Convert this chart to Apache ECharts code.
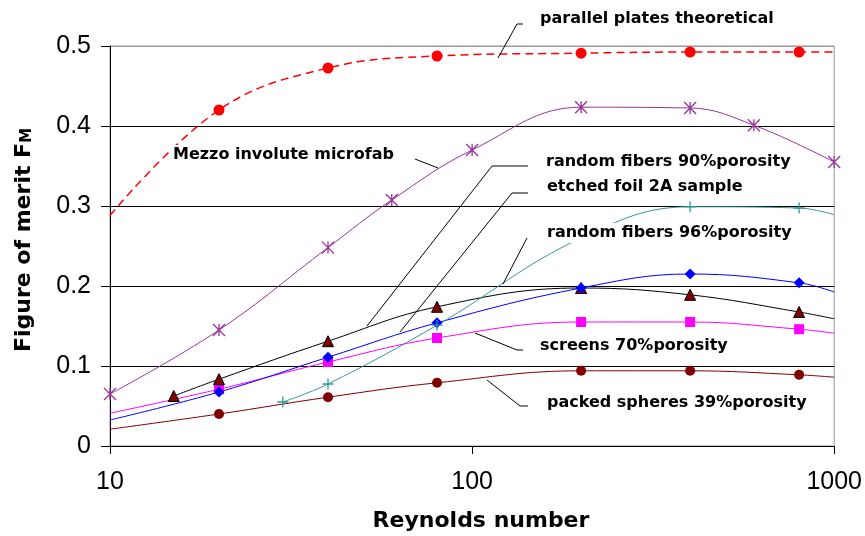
<!DOCTYPE html>
<html>
<head>
<meta charset="utf-8">
<script src="https://cdn.jsdelivr.net/npm/echarts@6/dist/echarts.min.js"></script>
<style>
  html, body { margin: 0; padding: 0; background: #fff; }
  #chart { width: 865px; height: 536px; }
</style>
</head>
<body>
<div id="chart"></div>
<script>
// values (Re on a log axis, figure of merit F_M)
const plateRe = [10, 20, 40, 80, 200, 400, 800, 1000];
const plateFm = [0.288, 0.42, 0.4725, 0.4875, 0.491, 0.4925, 0.4925, 0.4925];
const plateMarked = [0, 1, 1, 1, 1, 1, 1, 0];

const mezzoRe = [10, 20, 40, 60, 100, 200, 400, 600, 1000];
const mezzoFm = [0.065, 0.145, 0.248, 0.3075, 0.37, 0.4235, 0.4225, 0.401, 0.355];
const mezzoMarked = [1, 1, 1, 1, 1, 1, 1, 1, 1];

const fib90Re = [15, 20, 40, 80, 200, 400, 800, 1000];
const fib90Fm = [0.0625, 0.0835, 0.131, 0.174, 0.1975, 0.189, 0.1675, 0.159];
const fib90Marked = [1, 1, 1, 1, 1, 1, 1, 0];

const fib96Re = [10, 20, 40, 80, 200, 400, 800, 1000];
const fib96Fm = [0.0325, 0.0675, 0.111, 0.154, 0.1975, 0.215, 0.204, 0.1925];
const fib96Marked = [0, 1, 1, 1, 1, 1, 1, 0];

const foilRe = [30, 40, 80, 200, 400, 800, 1000];
const foilFm = [0.055, 0.0775, 0.151, 0.26, 0.299, 0.2975, 0.289];
const foilMarked = [1, 1, 1, 0, 1, 1, 0];

const screenRe = [10, 20, 40, 80, 200, 400, 800, 1000];
const screenFm = [0.041, 0.071, 0.105, 0.135, 0.155, 0.155, 0.146, 0.141];
const screenMarked = [0, 1, 1, 1, 1, 1, 1, 0];

const sphereRe = [10, 20, 40, 80, 200, 400, 800, 1000];
const sphereFm = [0.021, 0.04, 0.061, 0.079, 0.094, 0.094, 0.089, 0.086];
const sphereMarked = [0, 1, 1, 1, 1, 1, 1, 0];

const xTicks = [10, 100, 1000];
const yTicks = [0, 0.1, 0.2, 0.3, 0.4, 0.5];

function pts(re, fm, marked) {
  return re.map(function (r, i) {
    const p = { value: [r, fm[i]] };
    if (!marked[i]) p.symbol = 'none';
    return p;
  });
}

function lineSeries(name, re, fm, marked, color, symbol, size, extra) {
  const s = {
    name: name,
    type: 'line',
    data: pts(re, fm, marked),
    smooth: 0.4,
    symbol: symbol,
    symbolSize: size,
    showAllSymbol: true,
    lineStyle: { color: color, width: 1 },
    itemStyle: { color: color, borderWidth: 0 },
    emphasis: { disabled: true },
    animation: false
  };
  return Object.assign(s, extra || {});
}

const star = 'path://M0 0L10 10M10 0L0 10M5 0L5 10';
const plus = 'path://M5 0L5 10M0 5L10 5';

const chart = echarts.init(document.getElementById('chart'));

const boldFont = 'DejaVu Sans';
const labelStyle = function (text, x, y) {
  return {
    type: 'text', x: x, y: y, z: 100,
    style: {
      text: text, fill: '#000', fontFamily: boldFont, fontWeight: 'bold', fontSize: 16,
      align: 'left', verticalAlign: 'middle', backgroundColor: '#fff', padding: [2, 2]
    }
  };
};
const leader = function (points) {
  return { type: 'polyline', z: 99, shape: { points: points }, style: { stroke: '#000', lineWidth: 1, fill: null } };
};

chart.setOption({
  animation: false,
  backgroundColor: '#fff',
  grid: { left: 110, top: 46, width: 725, height: 400, show: true, borderColor: '#999', borderWidth: 1, backgroundColor: 'transparent' },
  xAxis: {
    type: 'log', logBase: 10, min: xTicks[0], max: xTicks[xTicks.length - 1],
    axisLine: { lineStyle: { color: '#000', width: 1 } },
    axisTick: { show: true, length: 8, lineStyle: { color: '#000' } },
    minorTick: { show: false },
    splitLine: { show: false },
    axisLabel: { color: '#000', fontFamily: 'Liberation Sans', fontSize: 25, margin: 24,
      formatter: function (v) { return xTicks.indexOf(Math.round(v)) >= 0 ? String(Math.round(v)) : ''; } }
  },
  yAxis: {
    type: 'value', min: 0, max: 0.5, interval: 0.1,
    axisLine: { show: true, lineStyle: { color: '#000', width: 1 } },
    axisTick: { show: true, length: 9, lineStyle: { color: '#000' } },
    splitLine: { show: true, lineStyle: { color: ['#000', '#000', '#000', '#000', '#000', '#999'], width: 1 } },
    axisLabel: { color: '#000', fontFamily: 'Liberation Sans', fontSize: 25, margin: 19,
      formatter: function (v) { return yTicks.indexOf(Math.round(v * 10) / 10) >= 0 ? String(Math.round(v * 10) / 10) : ''; } }
  },
  series: [
    lineSeries('packed spheres 39%porosity', sphereRe, sphereFm, sphereMarked, '#800000', 'circle', 10),
    lineSeries('screens 70%porosity', screenRe, screenFm, screenMarked, '#ff00ff', 'rect', 10),
    lineSeries('random fibers 90%porosity', fib90Re, fib90Fm, fib90Marked, '#000000', 'triangle', 11,
      { itemStyle: { color: '#800000', borderColor: '#000', borderWidth: 1 } }),
    lineSeries('random fibers 96%porosity', fib96Re, fib96Fm, fib96Marked, '#0000ff', 'diamond', 11),
    lineSeries('etched foil 2A sample', foilRe, foilFm, foilMarked, '#339999', plus, 11,
      { itemStyle: { color: '#339999', borderColor: '#339999', borderWidth: 1.3 } }),
    lineSeries('Mezzo involute microfab', mezzoRe, mezzoFm, mezzoMarked, '#993399', star, 12,
      { itemStyle: { color: '#993399', borderColor: '#993399', borderWidth: 1.3 } }),
    lineSeries('parallel plates theoretical', plateRe, plateFm, plateMarked, '#ff0000', 'circle', 11,
      { lineStyle: { color: '#ff0000', width: 1.5, type: [8, 5] } })
  ],
  graphic: [
    leader([[498, 58], [517, 24], [523, 24]]),
    labelStyle('parallel plates theoretical', 538, 19),
    leader([[415, 159], [438, 168]]),
    labelStyle('Mezzo involute microfab', 171, 155),
    leader([[367, 326], [492, 166], [528, 166]]),
    labelStyle('random fibers 90%porosity', 544, 162),
    leader([[400, 332], [512, 193], [528, 193]]),
    labelStyle('etched foil 2A sample', 545, 187),
    leader([[503, 284], [527, 238]]),
    labelStyle('random fibers 96%porosity', 545, 233),
    leader([[475, 333], [517, 350], [523, 350]]),
    labelStyle('screens 70%porosity', 538, 346),
    leader([[487, 380], [520, 406], [528, 406]]),
    labelStyle('packed spheres 39%porosity', 545, 403),
    {
      type: 'text', x: 24, y: 240, rotation: Math.PI / 2, z: 100,
      style: {
        text: '{a|Figure of merit F}{s|M}', align: 'center', verticalAlign: 'middle', fill: '#000',
        rich: {
          a: { fontFamily: boldFont, fontWeight: 'bold', fontSize: 22, fill: '#000' },
          s: { fontFamily: boldFont, fontWeight: 'bold', fontSize: 15, fill: '#000', padding: [6, 0, 0, 0] }
        }
      }
    },
    {
      type: 'text', x: 481, y: 521, z: 100,
      style: { text: 'Reynolds number', fontFamily: boldFont, fontWeight: 'bold', fontSize: 22, fill: '#000', align: 'center', verticalAlign: 'middle' }
    }
  ]
});
</script>
</body>
</html>
